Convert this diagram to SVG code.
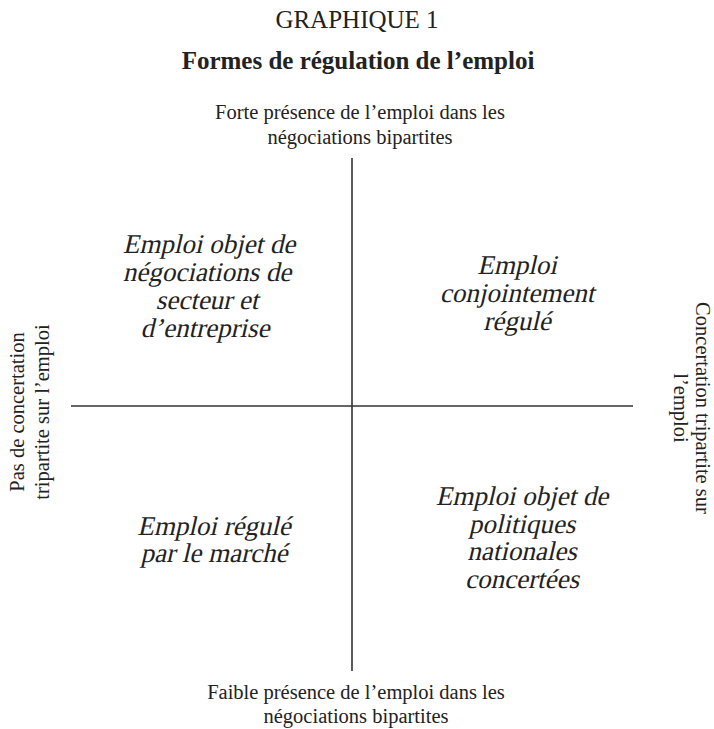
<svg xmlns="http://www.w3.org/2000/svg" width="714" height="729" viewBox="0 0 714 729">
  <style>
    .t { font-family: "Liberation Serif", "Times New Roman", serif; fill: #222; text-anchor: middle; }
    .head { font-size: 25px; }
    .title { font-size: 25px; font-weight: bold; }
    .axis { font-size: 20.5px; }
    .quad { font-size: 27px; }
    .ax { stroke: #333; stroke-width: 1.6; fill: none; }
  </style>
  <rect width="714" height="729" fill="#fff"/>

  <g id="heading">
    <text class="t head" x="357" y="28">GRAPHIQUE 1</text>
    <text class="t title" x="358" y="69">Formes de régulation de l’emploi</text>
  </g>

  <g id="connectors">
    <line class="ax" x1="352" y1="158" x2="352" y2="671"/>
    <line class="ax" x1="71" y1="406" x2="633" y2="406"/>
  </g>

  <g id="axis-top">
    <text class="t axis" x="360" y="119">Forte présence de l’emploi dans les</text>
    <text class="t axis" x="360" y="144">négociations bipartites</text>
  </g>

  <g id="axis-bottom">
    <text class="t axis" x="356" y="699">Faible présence de l’emploi dans les</text>
    <text class="t axis" x="356" y="723">négociations bipartites</text>
  </g>

  <g id="axis-left" transform="translate(24,412) rotate(-90)">
    <text class="t axis" x="0" y="0">Pas de concertation</text>
    <text class="t axis" x="0" y="25">tripartite sur l’emploi</text>
  </g>

  <g id="axis-right" transform="translate(696,408) rotate(90)">
    <text class="t axis" x="0" y="0">Concertation tripartite sur</text>
    <text class="t axis" x="0" y="22">l’emploi</text>
  </g>

  <!-- quadrant captions: upright serif slanted with skewX for the italic look -->
  <g id="quadrant-top-left">
    <text class="t quad" transform="translate(209,253) skewX(-13)">Emploi objet de</text>
    <text class="t quad" transform="translate(207,281) skewX(-13)">négociations de</text>
    <text class="t quad" transform="translate(207,309) skewX(-13)">secteur et</text>
    <text class="t quad" transform="translate(205,337) skewX(-13)">d’entreprise</text>
  </g>

  <g id="quadrant-top-right">
    <text class="t quad" transform="translate(517,274) skewX(-13)">Emploi</text>
    <text class="t quad" transform="translate(517,302) skewX(-13)">conjointement</text>
    <text class="t quad" transform="translate(517,330) skewX(-13)">régulé</text>
  </g>

  <g id="quadrant-bottom-left">
    <text class="t quad" transform="translate(214,535) skewX(-13)">Emploi régulé</text>
    <text class="t quad" transform="translate(214,562) skewX(-13)">par le marché</text>
  </g>

  <g id="quadrant-bottom-right">
    <text class="t quad" transform="translate(522,505) skewX(-13)">Emploi objet de</text>
    <text class="t quad" transform="translate(522,533) skewX(-13)">politiques</text>
    <text class="t quad" transform="translate(522,560) skewX(-13)">nationales</text>
    <text class="t quad" transform="translate(522,588) skewX(-13)">concertées</text>
  </g>
</svg>
